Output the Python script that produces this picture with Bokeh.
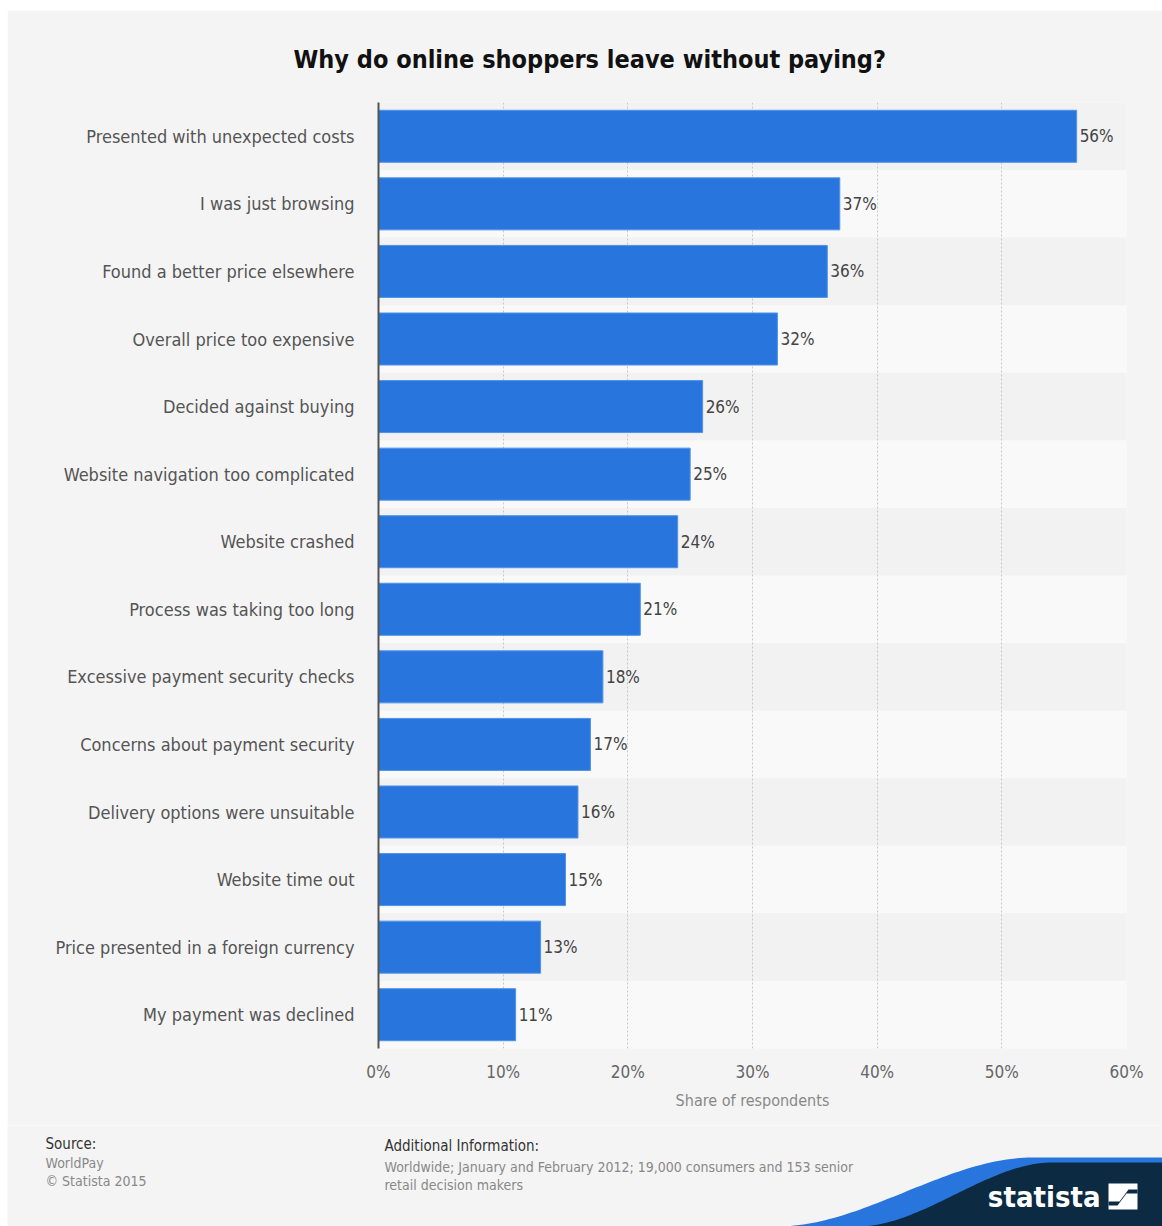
import numpy as np
from bokeh.plotting import figure
from bokeh.models import (ColumnDataSource, FactorRange, Range1d, FixedTicker,
                          PrintfTickFormatter, Spacer)
from bokeh.layouts import column, row
from bokeh.core.properties import value
from bokeh.embed import file_html
from bokeh.resources import INLINE

# ---------------- data ----------------
categories = [
    "Presented with unexpected costs",
    "I was just browsing",
    "Found a better price elsewhere",
    "Overall price too expensive",
    "Decided against buying",
    "Website navigation too complicated",
    "Website crashed",
    "Process was taking too long",
    "Excessive payment security checks",
    "Concerns about payment security",
    "Delivery options were unsuitable",
    "Website time out",
    "Price presented in a foreign currency",
    "My payment was declined",
]
shares = [56, 37, 36, 32, 26, 25, 24, 21, 18, 17, 16, 15, 13, 11]
x_ticks = [0, 10, 20, 30, 40, 50, 60]
title_text = "Why do online shoppers leave without paying?"
axis_title = "Share of respondents"
source_lines = ["Source:", "WorldPay", "\u00a9 Statista 2015"]
info_lines = ["Additional Information:",
              "Worldwide; January and February 2012; 19,000 consumers and 153 senior",
              "retail decision makers"]

FONT = "DejaVu Sans Condensed, DejaVu Sans"
BG = "#f4f4f4"
BAR = "#2876dd"
NAVY = "#0d2a43"
x_max = x_ticks[-1]

band_colors = ["#f2f2f2" if i % 2 == 0 else "#f9f9f9" for i in range(len(categories))]
src = ColumnDataSource(dict(
    cat=categories,
    val=shares,
    lab=[f"{v}%" for v in shares],
    band=band_colors,
    band_end=[x_max] * len(categories),
))

# ---------------- main chart ----------------
p = figure(
    y_range=FactorRange(factors=categories[::-1]),
    x_range=Range1d(0, x_max),
    width=1155, height=1115,
    min_border_left=371, min_border_right=36,
    min_border_top=92, min_border_bottom=77,
    output_backend="svg", toolbar_location=None,
    background_fill_color=BG, border_fill_color=BG,
)
p.frame_align = False
p.outline_line_color = None

p.title.text = title_text
p.title.align = "left"
p.title.offset = -85
p.title.standoff = 58
p.title.text_line_height = 0.8
p.title.text_font = FONT
p.title.text_font_size = "25px"
p.title.text_font_style = "bold"
p.title.text_color = "#111111"

bands = p.hbar(y="cat", left=0, right="band_end", height=1.0, source=src,
               fill_color="band", line_color=None)
bands.level = "image"

p.hbar(y="cat", left=0, right="val", height=0.77, source=src,
       fill_color=BAR, line_color="#4f93e8", line_width=1)

p.text(x="val", y="cat", text="lab", source=src, x_offset=3,
       text_baseline="middle", text_align="left",
       text_font=value(FONT), text_font_size="17px", text_color="#444444")

# grid
p.ygrid.grid_line_color = None
p.xgrid.ticker = FixedTicker(ticks=x_ticks)
p.xgrid.grid_line_color = "#c8c8c8"
p.xgrid.grid_line_dash = "2 2"
p.xgrid.grid_line_width = 1

# y axis
yax = p.yaxis[0]
yax.axis_line_color = "#555555"
yax.axis_line_width = 2
yax.major_tick_line_color = None
yax.minor_tick_line_color = None
yax.major_label_standoff = 18
yax.major_label_text_font = FONT
yax.major_label_text_font_size = "18px"
yax.major_label_text_color = "#555555"

# x axis
xax = p.xaxis[0]
xax.ticker = FixedTicker(ticks=x_ticks)
xax.formatter = PrintfTickFormatter(format="%d%%")
xax.axis_line_color = None
xax.major_tick_line_color = None
xax.minor_tick_line_color = None
xax.major_label_standoff = 7
xax.major_label_text_font = FONT
xax.major_label_text_font_size = "17px"
xax.major_label_text_color = "#666666"
xax.axis_label = axis_title
xax.axis_label_standoff = 6
xax.axis_label_text_font = FONT
xax.axis_label_text_font_size = "16px"
xax.axis_label_text_font_style = "normal"
xax.axis_label_text_color = "#888888"

# ---------------- footer ----------------
W2, H2 = 1155, 101
f = figure(width=W2, height=H2, x_range=Range1d(0, W2), y_range=Range1d(0, H2),
           x_axis_type=None, y_axis_type=None, min_border=0,
           min_border_left=0, min_border_right=0, min_border_top=0, min_border_bottom=0,
           output_backend="svg", toolbar_location=None,
           background_fill_color=BG, border_fill_color=BG)
f.frame_align = False
f.outline_line_color = None
f.grid.grid_line_color = None

# source block
f.text(x=[38], y=[83], text=[source_lines[0]], text_font=value(FONT),
       text_font_size="15px", text_color="#333333", text_baseline="middle")
f.text(x=[38, 38], y=[64, 46], text=source_lines[1:], text_font=value(FONT),
       text_font_size="14px", text_color="#888888", text_baseline="middle")
# additional info block
f.text(x=[377], y=[81], text=[info_lines[0]], text_font=value(FONT),
       text_font_size="15px", text_color="#333333", text_baseline="middle")
f.text(x=[377, 377], y=[60, 42], text=info_lines[1:], text_font=value(FONT),
       text_font_size="14px", text_color="#888888", text_baseline="middle")

# logo swoosh
def swoosh(x0, x1, ytop):
    xs = np.linspace(x0, x1, 60)
    t = (xs - x0) / (x1 - x0)
    s = t * t * (3 - 2 * t)
    ys = ytop * s
    xs = list(xs) + [W2, W2]
    ys = list(ys) + [ytop, 0]
    return xs, ys

bx, by = swoosh(770, 1025, 69)
f.patch(bx, by, fill_color=BAR, line_color=None)
nx, ny = swoosh(850, 1045, 64)
f.patch(nx, ny, fill_color=NAVY, line_color=None)

f.text(x=[1093], y=[30], text=["statista"], text_font=value(FONT),
       text_font_size="29px", text_font_style="bold", text_color="#ffffff",
       text_align="right", text_baseline="middle")
# icon
f.quad(left=[1101], right=[1130], bottom=[17], top=[43],
       fill_color="#ffffff", line_color=None)
f.patch([1101, 1112, 1121, 1130, 1130, 1119, 1110, 1101],
        [25, 25, 37, 37, 33, 33, 21, 21], fill_color=NAVY, line_color=None)

layout = column(Spacer(height=10),
                row(Spacer(width=7), column(p, f, spacing=0), spacing=0),
                spacing=0)

open("out.html", "w").write(file_html(layout, INLINE))
